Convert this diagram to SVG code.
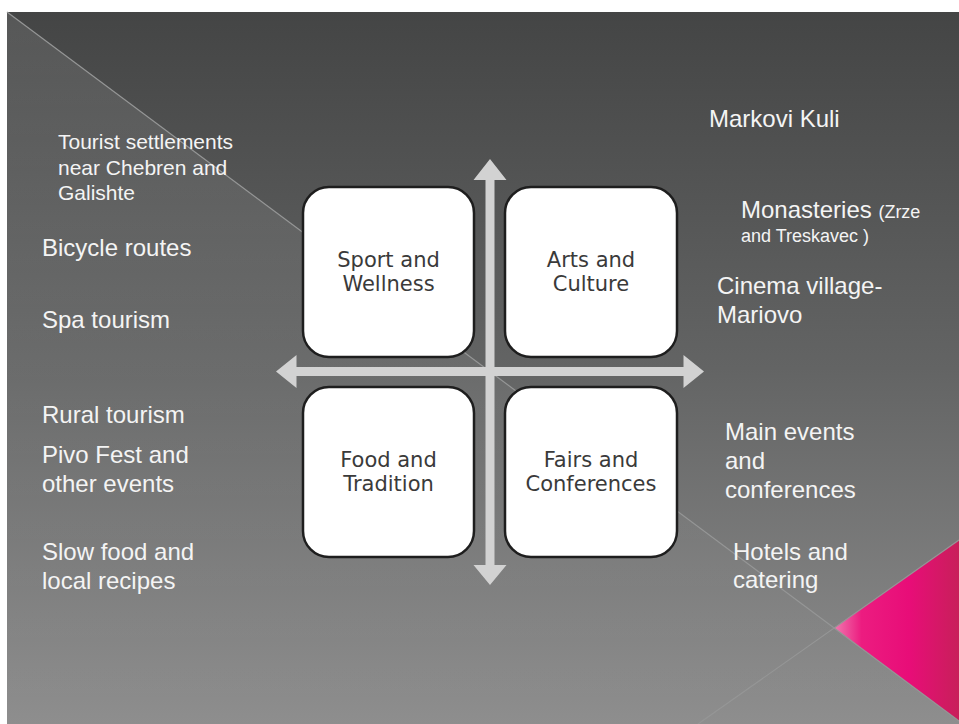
<svg xmlns="http://www.w3.org/2000/svg" width="959" height="724" viewBox="0 0 959 724">
<defs>
<linearGradient id="bg" x1="0" y1="0" x2="0" y2="1">
<stop offset="0" stop-color="#444545"/>
<stop offset="0.5" stop-color="#636464"/>
<stop offset="1" stop-color="#8e8e8e"/>
</linearGradient>
<linearGradient id="sheen" x1="0" y1="0" x2="0" y2="1">
<stop offset="0" stop-color="#ffffff" stop-opacity="0.1"/>
<stop offset="0.6" stop-color="#ffffff" stop-opacity="0.04"/>
<stop offset="1" stop-color="#ffffff" stop-opacity="0"/>
</linearGradient>
<linearGradient id="pink" gradientUnits="userSpaceOnUse" x1="834" y1="0" x2="959" y2="0">
<stop offset="0" stop-color="#f07ab0"/>
<stop offset="0.22" stop-color="#ec1c80"/>
<stop offset="0.6" stop-color="#e80d78"/>
<stop offset="1" stop-color="#c81f5a"/>
</linearGradient>
<style>
.box{fill:#ffffff;stroke:#1e1e1e;stroke-width:2.5}
.bt{font-family:"DejaVu Sans",sans-serif;font-size:21px;fill:#3a3a3a;text-anchor:middle}
.lt{font-family:"Liberation Sans",Arial,sans-serif;font-size:24px;fill:#f4f4f4}
.st{font-family:"Liberation Sans",Arial,sans-serif;font-size:21px;fill:#f4f4f4}
.sm{font-size:18px}
.arr{fill:#d2d2d2}
.ln{stroke:#959696;stroke-width:1.2;fill:none}
</style>
</defs>
<rect x="0" y="0" width="959" height="724" fill="#ffffff"/>
<rect x="7" y="12" width="952" height="712" fill="url(#bg)"/>
<polygon points="7,12 959,721 959,724 7,724" fill="url(#sheen)"/>
<polygon points="834,628 959,540 959,721" fill="url(#pink)"/>
<line class="ln" x1="7" y1="12" x2="959" y2="721"/>
<line class="ln" x1="959" y1="540" x2="698" y2="724"/>

<g id="connectors">
<polygon class="arr" points="490,159 506.5,180 494.5,180 494.5,565 506.5,565 490,585 473.5,565 485.5,565 485.5,180 473.5,180"/>
<polygon class="arr" points="276,371.5 296.5,355 296.5,367 683.5,367 683.5,355 704,371.5 683.5,388 683.5,376 296.5,376 296.5,388"/>
</g>

<g id="sport">
<rect class="box" x="303" y="187" width="171" height="170" rx="26"/>
<text class="bt" x="388.5" y="267">Sport and</text>
<text class="bt" x="388.5" y="291">Wellness</text>
</g>
<g id="arts">
<rect class="box" x="505" y="187" width="172" height="170" rx="26"/>
<text class="bt" x="591" y="267">Arts and</text>
<text class="bt" x="591" y="291">Culture</text>
</g>
<g id="food">
<rect class="box" x="303" y="387" width="171" height="170" rx="26"/>
<text class="bt" x="388.5" y="467">Food and</text>
<text class="bt" x="388.5" y="491">Tradition</text>
</g>
<g id="fairs">
<rect class="box" x="505" y="387" width="172" height="170" rx="26"/>
<text class="bt" x="591" y="467">Fairs and</text>
<text class="bt" x="591" y="491">Conferences</text>
</g>

<g id="left-labels">
<text class="st" x="58" y="149">Tourist settlements</text>
<text class="st" x="58" y="174.5">near Chebren and</text>
<text class="st" x="58" y="200">Galishte</text>
<text class="lt" x="42" y="256">Bicycle routes</text>
<text class="lt" x="42" y="328">Spa tourism</text>
<text class="lt" x="42" y="423">Rural tourism</text>
<text class="lt" x="42" y="463">Pivo Fest and</text>
<text class="lt" x="42" y="492">other events</text>
<text class="lt" x="42" y="560">Slow food and</text>
<text class="lt" x="42" y="589">local recipes</text>
</g>

<g id="right-labels">
<text class="lt" x="709" y="127">Markovi Kuli</text>
<text class="lt" x="741" y="218">Monasteries <tspan class="sm">(Zrze</tspan></text>
<text class="lt sm" x="741" y="241.5">and Treskavec )</text>
<text class="lt" x="717" y="294">Cinema village-</text>
<text class="lt" x="717" y="323">Mariovo</text>
<text class="lt" x="725" y="440">Main events</text>
<text class="lt" x="725" y="469">and</text>
<text class="lt" x="725" y="498">conferences</text>
<text class="lt" x="733" y="560">Hotels and</text>
<text class="lt" x="733" y="588">catering</text>
</g>
</svg>
